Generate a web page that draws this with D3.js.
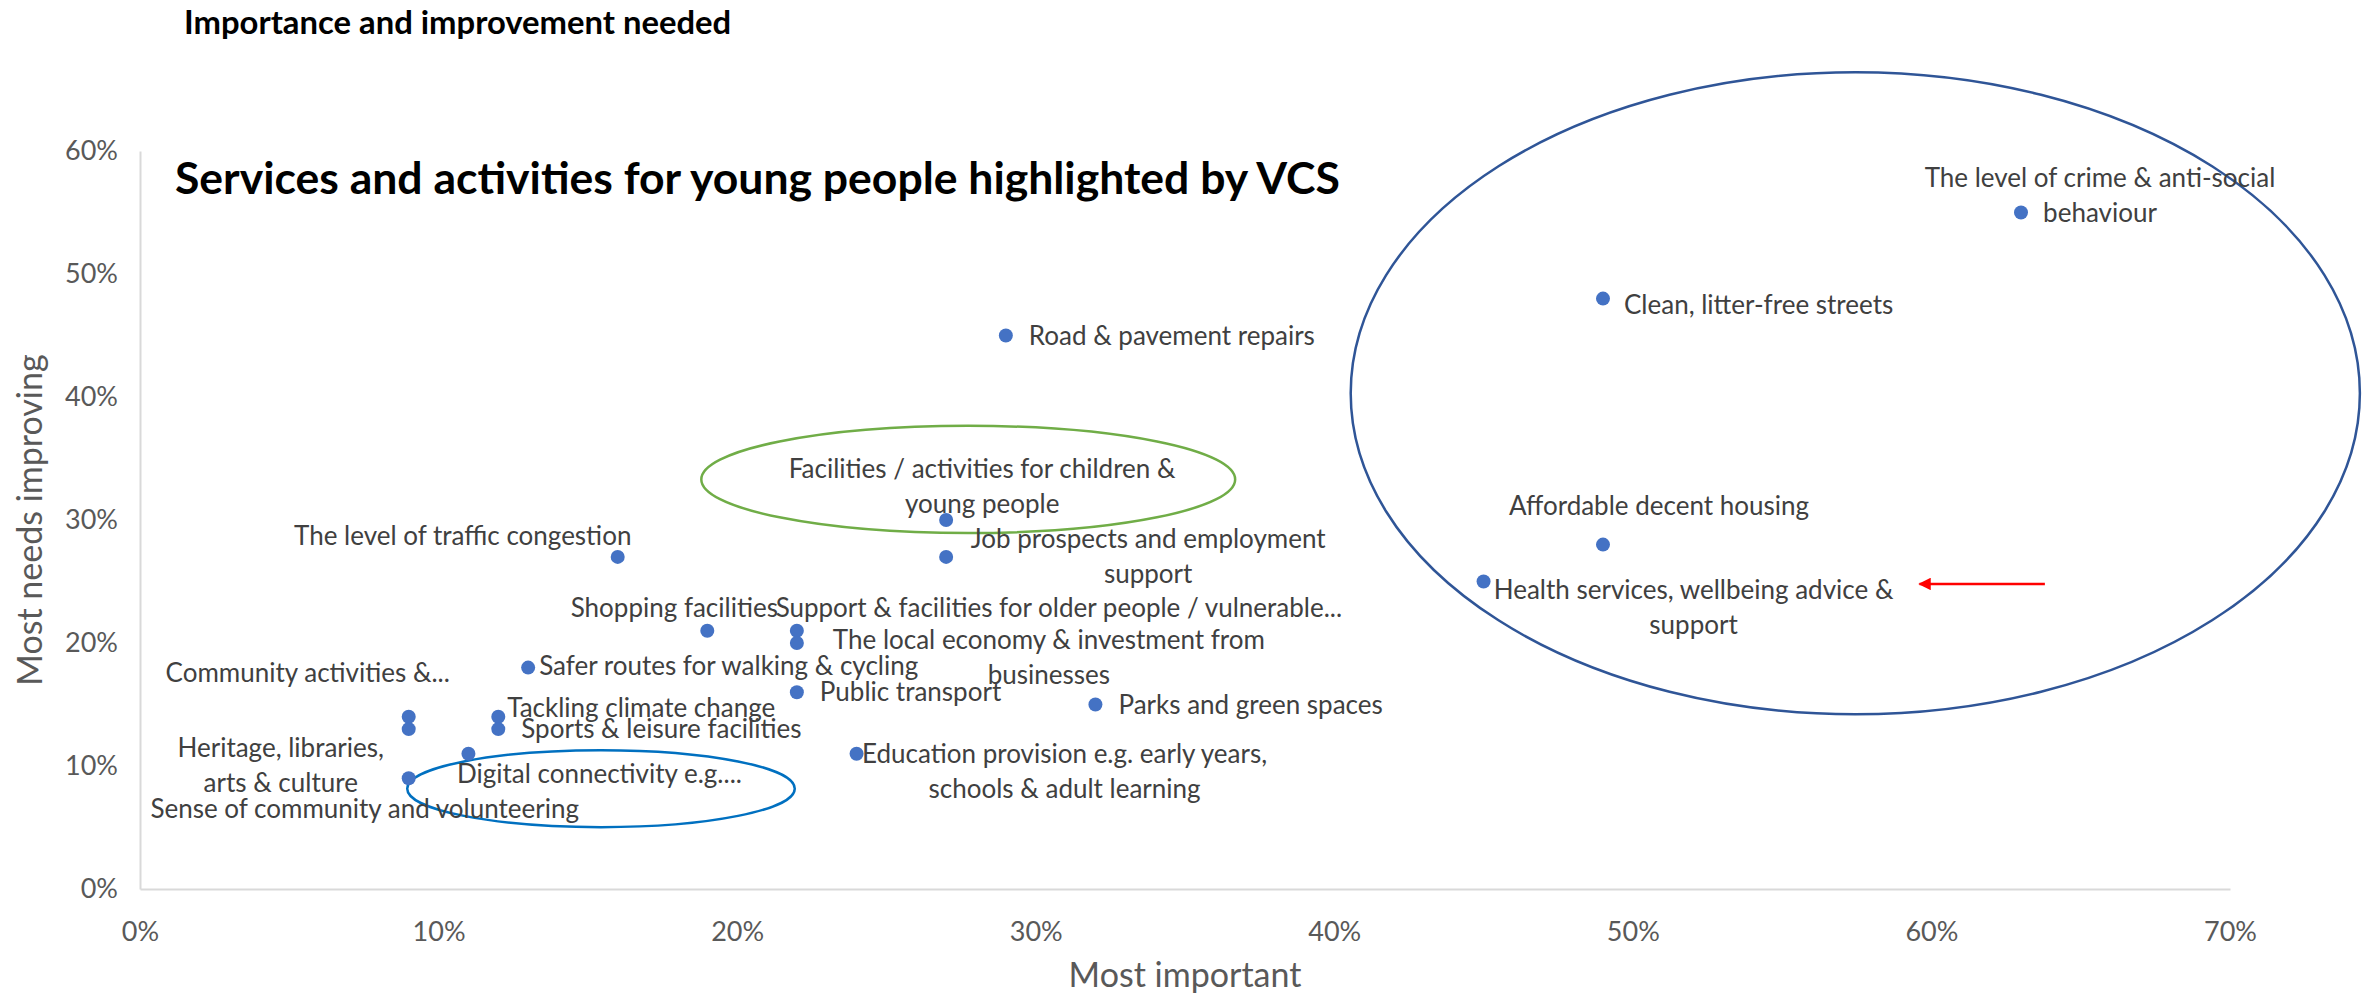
<!DOCTYPE html>
<html>
<head>
<meta charset="utf-8">
<script src="https://cdn.jsdelivr.net/npm/d3@7/dist/d3.min.js"></script>
<style>
  body { margin: 0; background: #fff; }
  text { font-family: Lato, "Open Sans", sans-serif; }
</style>
</head>
<body>
<div id="chart"></div>
<script>
// Data
var categories = [
  "The level of crime & anti-social behaviour",
  "Clean, litter-free streets",
  "Road & pavement repairs",
  "Facilities / activities for children & young people",
  "Job prospects and employment support",
  "Affordable decent housing",
  "Health services, wellbeing advice & support",
  "The level of traffic congestion",
  "Shopping facilities",
  "Support & facilities for older people / vulnerable...",
  "The local economy & investment from businesses",
  "Safer routes for walking & cycling",
  "Public transport",
  "Parks and green spaces",
  "Community activities &...",
  "Heritage, libraries, arts & culture",
  "Tackling climate change",
  "Sports & leisure facilities",
  "Digital connectivity e.g....",
  "Education provision e.g. early years, schools & adult learning",
  "Sense of community and volunteering"
];
var mostImportant = [0.63, 0.49, 0.29, 0.27, 0.27, 0.49, 0.45, 0.16, 0.19, 0.22, 0.22,
                     0.13, 0.22, 0.32, 0.09, 0.09, 0.12, 0.12, 0.11, 0.24, 0.09];
var needsImproving = [0.55, 0.48, 0.45, 0.30, 0.27, 0.28, 0.25, 0.27, 0.21, 0.21, 0.20,
                      0.18, 0.16, 0.15, 0.14, 0.13, 0.14, 0.13, 0.11, 0.11, 0.09];
var xTicks = [0, 0.1, 0.2, 0.3, 0.4, 0.5, 0.6, 0.7];
var yTicks = [0, 0.1, 0.2, 0.3, 0.4, 0.5, 0.6];

// annotation shapes, in data units
var ringCentreX = [0.5745, 0.2774, 0.1544];
var ringCentreY = [0.403, 0.333, 0.0816];
var ringRadiusX = [0.169, 0.0894, 0.0649];
var ringRadiusY = [0.261, 0.0436, 0.0313];
var ringColours = ["#2F5597", "#70AD47", "#0070C0"];
var arrowFrom = [0.638, 0.248];
var arrowTo = [0.596, 0.248];

// label placement (pixels from the point), wrap = where line two starts
var labelLayout = [
  {dx: 79, dy: -35, anchor: "middle", wrap: "behaviour"},
  {dx: 21, dy: 6, anchor: "start"},
  {dx: 23, dy: 0, anchor: "start"},
  {dx: 36, dy: -51, anchor: "middle", wrap: "young"},
  {dx: 202, dy: -18, anchor: "middle", wrap: "support"},
  {dx: 56, dy: -39, anchor: "middle"},
  {dx: 210, dy: 8, anchor: "middle", wrap: "support"},
  {dx: -155, dy: -21, anchor: "middle"},
  {dx: -33, dy: -23, anchor: "middle"},
  {dx: 262, dy: -23, anchor: "middle"},
  {dx: 252, dy: -3, anchor: "middle", wrap: "businesses"},
  {dx: 11, dy: -2, anchor: "start"},
  {dx: 23, dy: 0, anchor: "start"},
  {dx: 23, dy: 0, anchor: "start"},
  {dx: -101, dy: -44, anchor: "middle"},
  {dx: -128, dy: 19, anchor: "middle", wrap: "arts"},
  {dx: 9, dy: -9, anchor: "start"},
  {dx: 23, dy: 0, anchor: "start"},
  {dx: 131, dy: 20, anchor: "middle"},
  {dx: 208, dy: 0, anchor: "middle", wrap: "schools"},
  {dx: -44, dy: 31, anchor: "middle"}
];

var W = 2366, H = 996;
var margin = {top: 151, right: 136, bottom: 107, left: 140},
  width = W - margin.left - margin.right,
  height = H - margin.top - margin.bottom;

var x = d3.scaleLinear().domain([0, 0.7]).range([0, width]);
var y = d3.scaleLinear().domain([0, 0.6]).range([height, 0]);

var svg = d3.select("#chart").append("svg")
  .attr("width", W)
  .attr("height", H);

svg.append("defs").append("marker")
  .attr("id", "head")
  .attr("viewBox", "0 0 10 10")
  .attr("refX", 9).attr("refY", 5)
  .attr("markerWidth", 6).attr("markerHeight", 5)
  .attr("orient", "auto-start-reverse")
  .append("path")
    .attr("d", "M0,0 L10,5 L0,10 z")
    .attr("fill", "#FF0000");

// headings
svg.append("text")
  .attr("x", 184).attr("y", 34)
  .attr("font-size", 32.8).attr("font-weight", "bold")
  .text("Importance and improvement needed");

var g = svg.append("g")
  .attr("transform", "translate(" + margin.left + "," + margin.top + ")");

// axes
var xAxis = d3.axisBottom(x).tickValues(xTicks).tickFormat(d3.format(".0%")).tickSize(0).tickPadding(28);
var yAxis = d3.axisLeft(y).tickValues(yTicks).tickFormat(d3.format(".0%")).tickSize(0).tickPadding(22);

g.append("g")
  .attr("class", "x axis")
  .attr("transform", "translate(0," + height + ")")
  .call(xAxis);
g.append("g")
  .attr("class", "y axis")
  .call(yAxis);

g.selectAll(".axis path").attr("stroke", "#D9D9D9").attr("stroke-width", 2);
g.selectAll(".axis text")
  .attr("fill", "#595959")
  .attr("font-size", 27)
  .style("font-family", "Lato, sans-serif");
g.select(".x.axis").selectAll("text").attr("dy", "0.9em");

svg.append("text")
  .attr("x", margin.left + width / 2).attr("y", 987)
  .attr("text-anchor", "middle")
  .attr("fill", "#595959").attr("font-size", 34)
  .text("Most important");

svg.append("text")
  .attr("transform", "translate(42," + (margin.top + height / 2) + ") rotate(-90)")
  .attr("text-anchor", "middle")
  .attr("fill", "#595959").attr("font-size", 34)
  .text("Most needs improving");

// chart title sits inside plot
svg.append("text")
  .attr("x", 175).attr("y", 194)
  .attr("font-size", 44.5).attr("font-weight", "bold")
  .text("Services and activities for young people highlighted by VCS");

// highlight rings
g.selectAll(".ring")
  .data(ringCentreX)
  .enter().append("ellipse")
    .attr("class", "ring")
    .attr("cx", function(d) { return x(d); })
    .attr("cy", function(d, i) { return y(ringCentreY[i]); })
    .attr("rx", function(d, i) { return x(ringRadiusX[i]) - x(0); })
    .attr("ry", function(d, i) { return y(0) - y(ringRadiusY[i]); })
    .attr("fill", "none")
    .attr("stroke", function(d, i) { return ringColours[i]; })
    .attr("stroke-width", 2.5);

g.append("line")
  .attr("x1", x(arrowFrom[0])).attr("y1", y(arrowFrom[1]))
  .attr("x2", x(arrowTo[0])).attr("y2", y(arrowTo[1]))
  .attr("stroke", "#FF0000").attr("stroke-width", 2.5)
  .attr("marker-end", "url(#head)");

// points
g.selectAll(".dot")
  .data(categories)
  .enter().append("circle")
    .attr("class", "dot")
    .attr("cx", function(d, i) { return x(mostImportant[i]); })
    .attr("cy", function(d, i) { return y(needsImproving[i]); })
    .attr("r", 7)
    .attr("fill", "#4472C4");

// labels
var labels = g.selectAll(".label")
  .data(categories)
  .enter().append("text")
    .attr("class", "label")
    .attr("fill", "#404040")
    .attr("font-size", 26)
    .attr("text-anchor", function(d, i) { return labelLayout[i].anchor; })
    .attr("transform", function(d, i) {
      return "translate(" + (x(mostImportant[i]) + labelLayout[i].dx) + "," +
        (y(needsImproving[i]) + labelLayout[i].dy) + ")";
    });

labels.each(function(d, i) {
  var lay = labelLayout[i];
  var lines = [d];
  if (lay.wrap) {
    var k = d.indexOf(lay.wrap);
    lines = [d.slice(0, k).trim(), d.slice(k)];
  }
  d3.select(this).selectAll("tspan")
    .data(lines)
    .enter().append("tspan")
      .attr("x", 0)
      .attr("y", function(t, j) { return j * 35; })
      .attr("dy", "0.35em")
      .text(function(t) { return t; });
});
</script>
</body>
</html>
